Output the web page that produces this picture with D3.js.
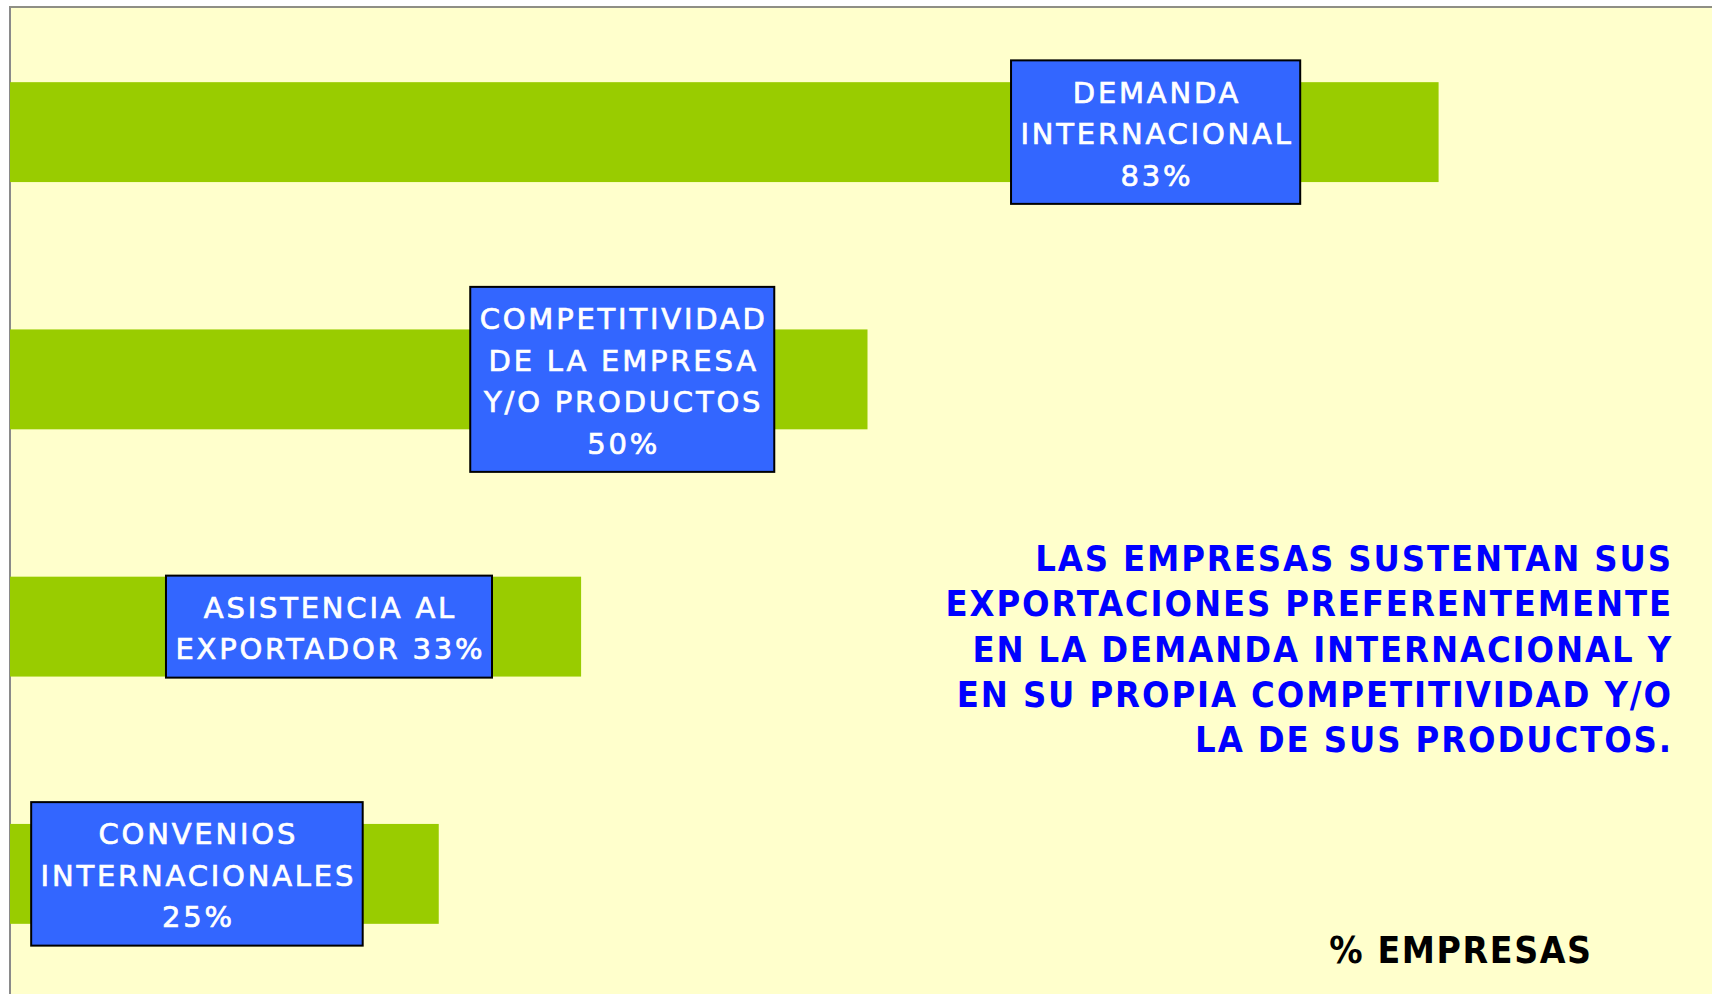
<!DOCTYPE html>
<html>
<head>
<meta charset="utf-8">
<script src="https://cdn.jsdelivr.net/npm/d3@7"></script>
<style>
  body { margin: 0; background: #fff; }
</style>
</head>
<body>
<div id="chart"></div>
<script>
// categories, top to bottom
const categories = ["demanda", "competitividad", "asistencia", "convenios"];
// % of companies
const values = [83.3, 50, 33.3, 25];
// label text per bar (percentage appended from values)
const labelLines = [
  ["DEMANDA", "INTERNACIONAL"],
  ["COMPETITIVIDAD", "DE LA EMPRESA", "Y/O PRODUCTOS"],
  ["ASISTENCIA AL", "EXPORTADOR"],
  ["CONVENIOS", "INTERNACIONALES"]
];
const pctOwnLine = [true, true, false, true];
// where each label box sits, in % units
const labelAt = [66.8, 35.7, 18.6, 10.9];
const noteLines = [
  "LAS EMPRESAS SUSTENTAN SUS",
  "EXPORTACIONES PREFERENTEMENTE",
  "EN LA DEMANDA INTERNACIONAL Y",
  "EN SU PROPIA COMPETITIVIDAD Y/O",
  "LA DE SUS PRODUCTOS."
];
const axisTitle = "% EMPRESAS";

const WIDTH = 1712, HEIGHT = 994;
const PLOT = { LEFT: 10, TOP: 7 };

const svg = d3.select("#chart").append("svg")
  .attr("width", WIDTH)
  .attr("height", HEIGHT)
  .style("display", "block");

// plot background + frame
svg.append("rect")
  .attr("x", PLOT.LEFT).attr("y", PLOT.TOP)
  .attr("width", WIDTH - PLOT.LEFT).attr("height", HEIGHT - PLOT.TOP)
  .attr("fill", "#FFFFCC");
svg.append("line")
  .attr("x1", PLOT.LEFT - 1).attr("x2", WIDTH)
  .attr("y1", PLOT.TOP).attr("y2", PLOT.TOP)
  .attr("stroke", "#8f8f85").attr("stroke-width", 2);
svg.append("line")
  .attr("x1", PLOT.LEFT).attr("x2", PLOT.LEFT)
  .attr("y1", PLOT.TOP).attr("y2", HEIGHT)
  .attr("stroke", "#8a8a8a").attr("stroke-width", 2);

const xScale = d3.scaleLinear().domain([0, 100]).range([PLOT.LEFT, 1725]);
const yScale = d3.scaleBand()
  .domain(categories)
  .range([8, 998])
  .paddingInner(0.596)
  .paddingOuter(0.3);

const fmt = d3.format(".0f");
const data = categories.map((c, i) => {
  const words = labelLines[i];
  const pct = fmt(values[i]) + "%";
  const lines = pctOwnLine[i]
    ? [...words, pct]
    : [...words.slice(0, -1), words[words.length - 1] + " " + pct];
  return { cat: c, value: values[i], lines: lines, at: labelAt[i] };
});

// bars
svg.append("g").selectAll("rect")
  .data(data)
  .enter()
  .append("rect")
  .attr("x", xScale(0))
  .attr("y", (d) => yScale(d.cat))
  .attr("width", (d) => xScale(d.value) - xScale(0))
  .attr("height", yScale.bandwidth())
  .attr("fill", "#99CC00");

// label boxes
const LINE_H = 41.5;
const labels = svg.append("g").selectAll("g")
  .data(data)
  .enter()
  .append("g")
  .attr("transform", (d) => `translate(${xScale(d.at)}, ${yScale(d.cat) + yScale.bandwidth() / 2})`);

labels.each(function (d) {
  const g = d3.select(this);
  const box = g.append("rect")
    .attr("fill", "#3366FF")
    .attr("stroke", "#000")
    .attr("stroke-width", 2);
  const n = d.lines.length;
  const txt = g.append("text")
    .attr("text-anchor", "middle")
    .attr("fill", "#fff")
    .attr("stroke", "#fff")
    .attr("stroke-width", 0.7)
    .style("font-family", "'DejaVu Sans', sans-serif")
    .style("font-size", "29px")
    .style("letter-spacing", "2.8px");
  d.lines.forEach((l, i) => {
    txt.append("tspan")
      .attr("x", 1.4)
      .attr("y", (i - (n - 1) / 2) * LINE_H + 12)
      .text(l);
  });
  let w = 0;
  txt.selectAll("tspan").each(function () {
    w = Math.max(w, this.getComputedTextLength());
  });
  const bw = w + 16, bh = n * LINE_H + 19;
  box.attr("x", -bw / 2).attr("y", -bh / 2).attr("width", bw).attr("height", bh);
});

// note text
svg.append("text")
  .attr("text-anchor", "end")
  .attr("fill", "#0000FF")
  .style("font-family", "'DejaVu Sans Condensed', 'DejaVu Sans', sans-serif")
  .style("font-weight", "bold")
  .style("font-size", "36px")
  .style("letter-spacing", "1.9px")
  .selectAll("tspan")
  .data(noteLines)
  .enter()
  .append("tspan")
  .attr("x", 1673)
  .attr("y", (d, i) => 571 + i * 45.3)
  .text((d) => d);

// axis title
svg.append("text")
  .attr("x", 1461)
  .attr("y", 963)
  .attr("text-anchor", "middle")
  .attr("fill", "#000")
  .style("font-family", "'DejaVu Sans Condensed', 'DejaVu Sans', sans-serif")
  .style("font-weight", "bold")
  .style("font-size", "37px")
  .style("letter-spacing", "1.6px")
  .text(axisTitle);
</script>
</body>
</html>
